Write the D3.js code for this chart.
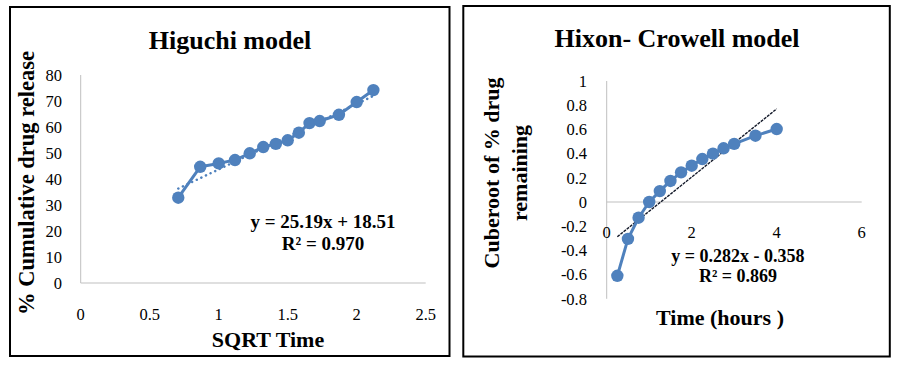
<!DOCTYPE html>
<html>
<head>
<meta charset="utf-8">
<script src="https://cdn.jsdelivr.net/npm/d3@7"></script>
<style>
  html, body { margin: 0; padding: 0; background: #fff; }
  svg { display: block; }
  text { font-family: "Liberation Serif", "Times New Roman", serif; fill: #000; }
</style>
</head>
<body>
<svg id="chart" width="899" height="366"></svg>
<script>
// ---------- Data ----------
// Higuchi model
const higuchiX = [0.707, 0.866, 1.0, 1.118, 1.225, 1.323, 1.414, 1.5, 1.581, 1.658, 1.732, 1.871, 2.0, 2.121];
const higuchiY = [32.8, 44.7, 46.0, 47.3, 49.9, 52.3, 53.5, 54.9, 57.8, 61.5, 62.3, 64.7, 69.6, 74.2];
const higuchiXTicks = [0, 0.5, 1, 1.5, 2, 2.5];
const higuchiYTicks = [0, 10, 20, 30, 40, 50, 60, 70, 80];
const higuchiFit = { slope: 25.19, intercept: 18.51 };
const higuchiEq = ["y = 25.19x + 18.51", "R\u00B2 = 0.970"];

// Hixon-Crowell model
const hixonX = [0.25, 0.5, 0.75, 1, 1.25, 1.5, 1.75, 2, 2.25, 2.5, 2.75, 3, 3.5, 4];
const hixonY = [-0.61, -0.305, -0.13, 0.0, 0.09, 0.174, 0.245, 0.30, 0.355, 0.40, 0.444, 0.48, 0.548, 0.603];
const hixonXTicks = [0, 2, 4, 6];
const hixonYTicks = [1, 0.8, 0.6, 0.4, 0.2, 0, -0.2, -0.4, -0.6, -0.8];
const hixonFit = { slope: 0.282, intercept: -0.358 };
const hixonEq = ["y = 0.282x - 0.358", "R\u00B2 = 0.869"];

const blue = "#4f81bd";
const svg = d3.select("#chart");

function fmt(v) { return String(v); }

// ---------- Left chart: Higuchi ----------
(function () {
  const g = svg.append("g");
  g.append("rect").attr("x", 10).attr("y", 7).attr("width", 439.5).attr("height", 349)
    .attr("fill", "none").attr("stroke", "#000").attr("stroke-width", 2);

  const x = d3.scaleLinear().domain([0, 2.5]).range([80.7, 425.7]);
  const y = d3.scaleLinear().domain([0, 80]).range([283, 75]);

  g.append("line").attr("x1", x(0)).attr("x2", x(0)).attr("y1", y(80)).attr("y2", y(0))
    .attr("stroke", "#bfbfbf").attr("stroke-width", 1);
  g.append("line").attr("x1", x(0)).attr("x2", x(2.5)).attr("y1", y(0)).attr("y2", y(0))
    .attr("stroke", "#bfbfbf").attr("stroke-width", 1);

  g.selectAll(".yt").data(higuchiYTicks).join("text")
    .attr("x", 62).attr("y", d => y(d)).attr("dy", "0.35em")
    .attr("text-anchor", "end").attr("font-size", 16.5).text(fmt);
  g.selectAll(".xt").data(higuchiXTicks).join("text")
    .attr("x", d => x(d)).attr("y", 314).attr("dy", "0.35em")
    .attr("text-anchor", "middle").attr("font-size", 16.5).text(fmt);

  const x0 = d3.min(higuchiX), x1 = d3.max(higuchiX);
  g.append("line")
    .attr("x1", x(x0)).attr("y1", y(higuchiFit.slope * x0 + higuchiFit.intercept))
    .attr("x2", x(x1)).attr("y2", y(higuchiFit.slope * x1 + higuchiFit.intercept))
    .attr("stroke", blue).attr("stroke-width", 2.5).attr("stroke-linecap", "round")
    .attr("stroke-dasharray", "0.1,5");

  const pts = higuchiX.map((v, i) => [v, higuchiY[i]]);
  g.append("path").datum(pts)
    .attr("d", d3.line().x(d => x(d[0])).y(d => y(d[1])))
    .attr("fill", "none").attr("stroke", blue).attr("stroke-width", 3)
    .attr("stroke-linejoin", "round");
  g.selectAll(".pt").data(pts).join("circle")
    .attr("cx", d => x(d[0])).attr("cy", d => y(d[1])).attr("r", 6.2).attr("fill", blue);

  g.append("text").attr("x", 230).attr("y", 49).attr("text-anchor", "middle")
    .attr("font-size", 26).attr("font-weight", "bold").text("Higuchi model");
  g.append("text").attr("transform", "translate(34,183) rotate(-90)")
    .attr("text-anchor", "middle").attr("font-size", 22.5).attr("font-weight", "bold")
    .text("% Cumulative drug release");
  g.append("text").attr("x", 268).attr("y", 347).attr("text-anchor", "middle")
    .attr("font-size", 22).attr("font-weight", "bold").text("SQRT Time");

  g.selectAll(".eq").data(higuchiEq).join("text")
    .attr("x", 323).attr("y", (d, i) => 228 + i * 22).attr("text-anchor", "middle")
    .attr("font-size", 19).attr("font-weight", "bold").text(d => d);
})();

// ---------- Right chart: Hixon-Crowell ----------
(function () {
  const g = svg.append("g");
  g.append("rect").attr("x", 463.3).attr("y", 6).attr("width", 426.5).attr("height", 350.5)
    .attr("fill", "none").attr("stroke", "#000").attr("stroke-width", 2);

  const x = d3.scaleLinear().domain([0, 6]).range([606.7, 861.7]);
  const y = d3.scaleLinear().domain([-0.8, 1]).range([298.8, 81]);

  g.append("line").attr("x1", x(0)).attr("x2", x(0)).attr("y1", y(1)).attr("y2", y(-0.8))
    .attr("stroke", "#bfbfbf").attr("stroke-width", 1);
  g.append("line").attr("x1", x(0)).attr("x2", x(6)).attr("y1", y(0)).attr("y2", y(0))
    .attr("stroke", "#bfbfbf").attr("stroke-width", 1);

  g.selectAll(".yt").data(hixonYTicks).join("text")
    .attr("x", 587).attr("y", d => y(d)).attr("dy", "0.35em")
    .attr("text-anchor", "end").attr("font-size", 16.5).text(fmt);
  g.selectAll(".xt").data(hixonXTicks).join("text")
    .attr("x", d => x(d)).attr("y", 232).attr("dy", "0.35em")
    .attr("text-anchor", "middle").attr("font-size", 16.5).text(fmt);

  const x0 = d3.min(hixonX), x1 = d3.max(hixonX);
  g.append("line")
    .attr("x1", x(x0)).attr("y1", y(hixonFit.slope * x0 + hixonFit.intercept))
    .attr("x2", x(x1)).attr("y2", y(hixonFit.slope * x1 + hixonFit.intercept))
    .attr("stroke", "#141a2a").attr("stroke-width", 1.4)
    .attr("stroke-dasharray", "3,1");

  const pts = hixonX.map((v, i) => [v, hixonY[i]]);
  g.append("path").datum(pts)
    .attr("d", d3.line().x(d => x(d[0])).y(d => y(d[1])))
    .attr("fill", "none").attr("stroke", blue).attr("stroke-width", 3)
    .attr("stroke-linejoin", "round");
  g.selectAll(".pt").data(pts).join("circle")
    .attr("cx", d => x(d[0])).attr("cy", d => y(d[1])).attr("r", 6.2).attr("fill", blue);

  g.append("text").attr("x", 677).attr("y", 47).attr("text-anchor", "middle")
    .attr("font-size", 26).attr("font-weight", "bold").text("Hixon- Crowell model");
  const yl = g.append("text").attr("transform", "translate(0,173) rotate(-90)")
    .attr("text-anchor", "middle").attr("font-size", 22).attr("font-weight", "bold");
  yl.append("tspan").attr("x", 0).attr("y", 499).text("Cuberoot of % drug");
  yl.append("tspan").attr("x", 0).attr("y", 527).text("remaining");
  g.append("text").attr("x", 720).attr("y", 325).attr("text-anchor", "middle")
    .attr("font-size", 22).attr("font-weight", "bold").text("Time (hours )");

  g.selectAll(".eq").data(hixonEq).join("text")
    .attr("x", 738).attr("y", (d, i) => 262 + i * 20).attr("text-anchor", "middle")
    .attr("font-size", 18).attr("font-weight", "bold").text(d => d);
})();
</script>
</body>
</html>
